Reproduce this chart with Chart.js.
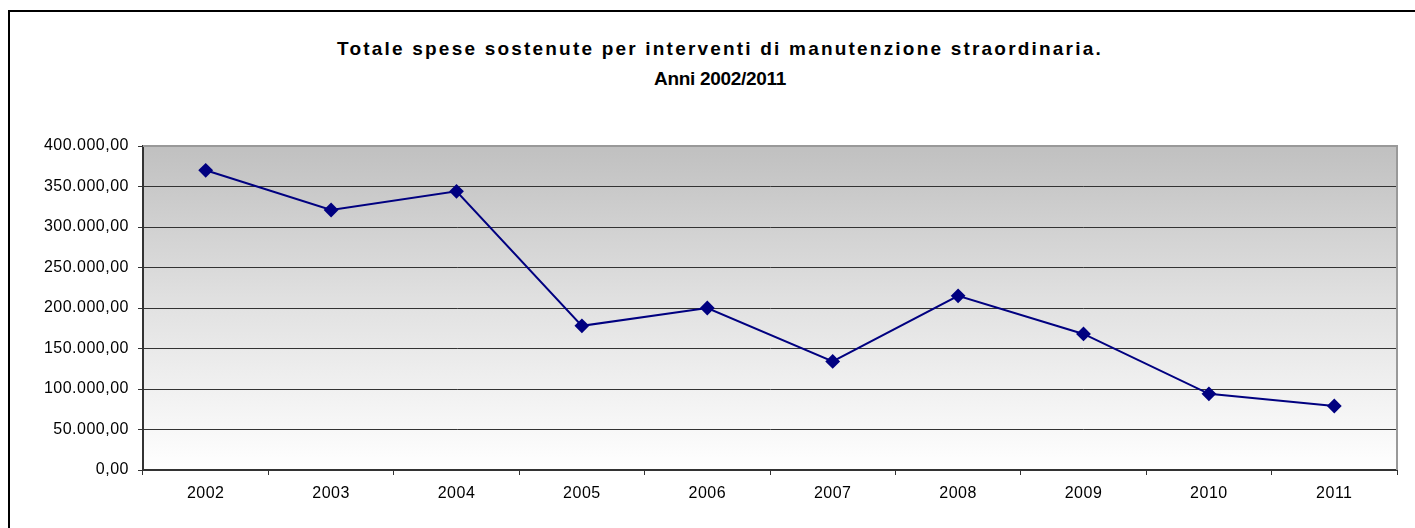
<!DOCTYPE html>
<html>
<head>
<meta charset="utf-8">
<script src="https://cdn.jsdelivr.net/npm/chart.js@4.4.0/dist/chart.umd.min.js"></script>
<style>
  html, body { margin: 0; padding: 0; background: #fff; }
  #wrap { position: relative; width: 1415px; height: 528px; overflow: hidden; }
  #frame { position: absolute; left: 8px; top: 10px; width: 1420px; height: 530px;
           border-left: 2px solid #000; border-top: 2px solid #000; }
  .title { position: absolute; left: 0; width: 1440px; text-align: center;
           font: bold 19px "Liberation Sans", Arial, sans-serif; color: #000; line-height: 19px; }
  #t1 { top: 39px; letter-spacing: 2.2px; }
  #t2 { top: 69px; letter-spacing: -0.3px; }
  canvas { position: absolute; left: 0; top: 0; }
</style>
</head>
<body>
<div id="wrap">
  <div id="frame"></div>
  <div class="title" id="t1">Totale spese sostenute per interventi di manutenzione straordinaria.</div>
  <div class="title" id="t2">Anni 2002/2011</div>
  <canvas id="myChart" width="1415" height="528"></canvas>
</div>
<script>
const years = ['2002','2003','2004','2005','2006','2007','2008','2009','2010','2011'];
const spese = [370000, 321000, 344000, 178000, 200000, 134000, 215000, 168000, 94000, 79000];
const yMin = 0;
const yMax = 400000;
const yStep = 50000;

// 400000 -> "400.000,00"
const formatIt = (v) => {
  const s = Math.round(v).toString().replace(/\B(?=(\d{3})+(?!\d))/g, '.');
  return s + ',00';
};

const plotBackground = {
  id: 'plotBackground',
  beforeUpdate: (chart) => { chart.ctx.letterSpacing = '0.5px'; },
  beforeDraw: (chart) => {
    const { ctx, chartArea: a } = chart;
    ctx.letterSpacing = '0.5px';
    const g = ctx.createLinearGradient(0, a.top, 0, a.bottom);
    g.addColorStop(0, '#c0c0c0');
    g.addColorStop(0.5, '#e2e2e2');
    g.addColorStop(1, '#ffffff');
    ctx.save();
    ctx.fillStyle = g;
    ctx.fillRect(a.left, a.top, a.right - a.left, a.bottom - a.top);
    ctx.restore();
  },
  beforeDatasetsDraw: (chart) => {
    const { ctx, chartArea: a } = chart;
    ctx.save();
    ctx.strokeStyle = '#999999';
    ctx.lineWidth = 2;
    ctx.beginPath();
    ctx.moveTo(a.left, a.top);
    ctx.lineTo(a.right, a.top);
    ctx.lineTo(a.right, a.bottom);
    ctx.stroke();
    ctx.restore();
  }
};

window.addEventListener('load', () => {
  const ctx = document.getElementById('myChart').getContext('2d');
  new Chart(ctx, {
    type: 'line',
    data: {
      labels: years,
      datasets: [{
        label: 'Spese',
        data: spese,
        borderColor: '#000080',
        backgroundColor: '#000080',
        borderWidth: 2,
        tension: 0,
        pointStyle: 'rectRot',
        pointRadius: 6,
        pointHoverRadius: 6,
        pointBackgroundColor: '#000080',
        pointBorderColor: '#000080'
      }]
    },
    options: {
      responsive: false,
      animation: false,
      layout: { padding: { top: 146, right: 18, left: 0, bottom: 0 } },
      plugins: {
        legend: { display: false },
        title: { display: false },
        tooltip: { enabled: false }
      },
      scales: {
        x: {
          offset: true,
          grid: { offset: true, drawOnChartArea: false, tickLength: 5, tickColor: '#333' },
          border: { color: '#333', width: 2 },
          ticks: {
            color: '#000',
            padding: 9,
            font: { family: '"Liberation Sans", Arial, sans-serif', size: 16 }
          },
          afterFit: (scale) => { scale.height = 58; }
        },
        y: {
          min: yMin,
          max: yMax,
          grid: {
            color: (c) => (c.tick && c.tick.value === yMax) ? 'rgba(0,0,0,0)' : '#333',
            tickLength: 5,
            tickColor: '#333'
          },
          border: { color: '#333', width: 2 },
          ticks: {
            stepSize: yStep,
            color: '#000',
            padding: 9,
            font: { family: '"Liberation Sans", Arial, sans-serif', size: 16 },
            callback: (v) => formatIt(v)
          },
          afterFit: (scale) => { scale.width = 143; }
        }
      }
    },
    plugins: [plotBackground]
  });
});
</script>
</body>
</html>
